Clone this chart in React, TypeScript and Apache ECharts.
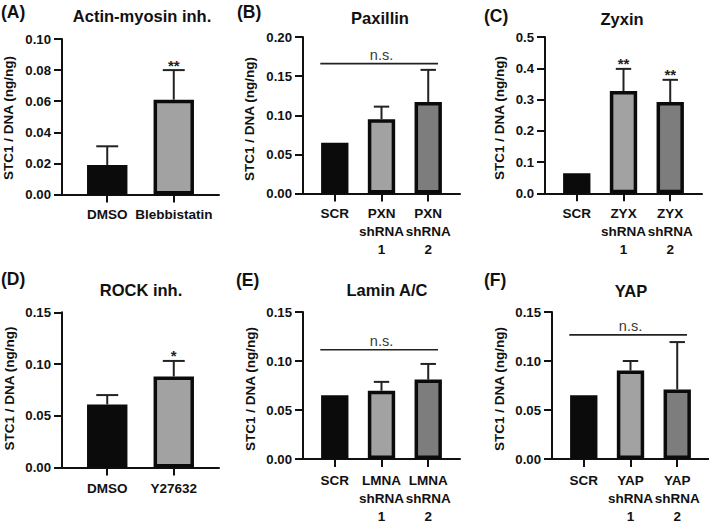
import React, { useEffect, useRef } from "react";
import * as echarts from "echarts";

// ---------- DATA ----------
const catsA = ["DMSO", "Blebbistatin"];
const meanA = [0.019, 0.061];
const errA = [0.031, 0.08];
const starsA = ["", "**"];
const ticksA = { max: 0.1, step: 0.02, dec: 2 };

const catsB = ["SCR", "PXN\nshRNA\n1", "PXN\nshRNA\n2"];
const meanB = [0.065, 0.095, 0.117];
const errB = [null, 0.111, 0.158];
const starsB = ["", "", ""];
const nsB = 0.166;
const ticksB = { max: 0.2, step: 0.05, dec: 2 };

const catsC = ["SCR", "ZYX\nshRNA\n1", "ZYX\nshRNA\n2"];
const meanC = [0.064, 0.327, 0.292];
const errC = [null, 0.398, 0.363];
const starsC = ["", "**", "**"];
const ticksC = { max: 0.5, step: 0.1, dec: 1 };

const catsD = ["DMSO", "Y27632"];
const meanD = [0.061, 0.088];
const errD = [0.07, 0.103];
const starsD = ["", "*"];
const ticksD = { max: 0.15, step: 0.05, dec: 2 };

const catsE = ["SCR", "LMNA\nshRNA\n1", "LMNA\nshRNA\n2"];
const meanE = [0.065, 0.0697, 0.081];
const errE = [null, 0.0787, 0.097];
const starsE = ["", "", ""];
const nsE = 0.1115;
const ticksE = { max: 0.15, step: 0.05, dec: 2 };

const catsF = ["SCR", "YAP\nshRNA\n1", "YAP\nshRNA\n2"];
const meanF = [0.065, 0.0903, 0.071];
const errF = [null, 0.1, 0.1193];
const starsF = ["", "", ""];
const nsF = 0.1267;
const ticksF = { max: 0.15, step: 0.05, dec: 2 };

const letters = ["(A)", "(B)", "(C)", "(D)", "(E)", "(F)"];
const titles = ["Actin-myosin inh.", "Paxillin", "Zyxin", "ROCK inh.", "Lamin A/C", "YAP"];
const yName = "STC1 / DNA (ng/ng)";

// ---------- LAYOUT / STYLE ----------
const FONT = "'Liberation Sans', Arial, Helvetica, sans-serif";
const INK = "#111";
const PLOT_W = 157;
const PAD = 0.68;

const panels = [
  { cats: catsA, mean: meanA, err: errA, stars: starsA, ns: null, ticks: ticksA,
    left: 62, top: 39, zero: 194.5, title: [142, 15.5], letter: [1, 11.5], yname: [8.7, 118], lblMargin: 11 },
  { cats: catsB, mean: meanB, err: errB, stars: starsB, ns: nsB, ticks: ticksB,
    left: 303, top: 37, zero: 193.5, title: [380, 18], letter: [237, 11.5], yname: [249.5, 119], lblMargin: 11 },
  { cats: catsC, mean: meanC, err: errC, stars: starsC, ns: null, ticks: ticksC,
    left: 545, top: 37, zero: 193.3, title: [622, 19], letter: [484, 15.5], yname: [499, 118], lblMargin: 11 },
  { cats: catsD, mean: meanD, err: errD, stars: starsD, ns: null, ticks: ticksD,
    left: 62, top: 312.3, zero: 467.5, title: [141, 290], letter: [1, 279], yname: [9, 388.5], lblMargin: 12 },
  { cats: catsE, mean: meanE, err: errE, stars: starsE, ns: nsE, ticks: ticksE,
    left: 303, top: 312, zero: 467.3, title: [387, 290], letter: [236, 280], yname: [250, 389], lblMargin: 12 },
  { cats: catsF, mean: meanF, err: errF, stars: starsF, ns: nsF, ticks: ticksF,
    left: 552, top: 312, zero: 467, title: [631, 290.5], letter: [484, 280], yname: [499, 389], lblMargin: 12 },
];

const fill2 = ["#0b0b0b", "#a2a2a2"];
const fill3 = ["#0b0b0b", "#a2a2a2", "#7d7d7d"];
const BORDER = 3.5;

function buildOption() {
  const grid: any[] = [];
  const xAxis: any[] = [];
  const yAxis: any[] = [];
  const series: any[] = [];
  const graphic: any[] = [];

  panels.forEach((p, i) => {
    const n = p.cats.length;
    const band = PLOT_W / (n - 1 + 2 * PAD);
    const outer = 0.66 * band;
    const capHalf = outer / 4;
    grid.push({ left: p.left, top: p.top, width: PLOT_W, height: p.zero - p.top, containLabel: false });
    const idx = p.cats.map((_, j) => j);
    xAxis.push({
      gridIndex: i,
      type: "value",
      min: -PAD,
      max: n - 1 + PAD,
      splitLine: { show: false },
      axisLine: { show: true, onZero: false, lineStyle: { color: INK, width: 2 } },
      axisTick: { show: true, length: 8, customValues: idx, lineStyle: { color: INK, width: 2 } },
      axisLabel: {
        show: true,
        customValues: idx,
        formatter: (v: number) => p.cats[Math.round(v)] ?? "",
        margin: p.lblMargin,
        color: INK,
        fontFamily: FONT,
        fontWeight: "bold",
        fontSize: 13.5,
        lineHeight: 18,
      },
    });
    yAxis.push({
      gridIndex: i,
      type: "value",
      min: 0,
      max: p.ticks.max,
      interval: p.ticks.step,
      splitLine: { show: false },
      axisLine: { show: true, onZero: false, lineStyle: { color: INK, width: 2 } },
      axisTick: { show: true, length: 8, lineStyle: { color: INK, width: 2 } },
      axisLabel: {
        formatter: (v: number) => v.toFixed(p.ticks.dec),
        margin: 11,
        color: INK,
        fontFamily: FONT,
        fontWeight: "bold",
        fontSize: 13.2,
      },
    });
    const fills = n === 2 ? fill2 : fill3;
    series.push({
      type: "bar",
      xAxisIndex: i,
      yAxisIndex: i,
      barWidth: outer - BORDER,
      z: 3,
      data: p.mean.map((m, j) => ({
        value: [j, m],
        itemStyle: { color: fills[j], borderColor: "#0b0b0b", borderWidth: BORDER },
      })),
    });
    const errData: any[] = [];
    p.err.forEach((e, j) => {
      if (e != null) errData.push([j, p.mean[j], e]);
    });
    series.push({
      type: "custom",
      xAxisIndex: i,
      yAxisIndex: i,
      z: 2,
      encode: { x: 0, y: [1, 2] },
      data: errData,
      renderItem: (params: any, api: any) => {
        const x = api.value(0);
        const m = api.value(1);
        const e = api.value(2);
        const p0 = api.coord([x, m]);
        const p1 = api.coord([x, e]);
        const ls = { stroke: "#222", lineWidth: 2 };
        const children: any[] = [
          { type: "line", shape: { x1: p0[0], y1: p0[1], x2: p1[0], y2: p1[1] }, style: ls },
          { type: "line", shape: { x1: p1[0] - capHalf, y1: p1[1], x2: p1[0] + capHalf, y2: p1[1] }, style: ls },
        ];
        const s = p.stars[Math.round(x)];
        if (s) {
          children.push({
            type: "text",
            x: p1[0],
            y: p1[1] - 5,
            style: {
              text: s,
              align: "center",
              textAlign: "center",
              verticalAlign: "middle",
              textVerticalAlign: "middle",
              fontSize: 15,
              fontWeight: "bold",
              fontFamily: FONT,
              fill: "#222",
            },
          });
        }
        return { type: "group", children };
      },
    });
    if (p.ns != null) {
      series.push({
        type: "custom",
        xAxisIndex: i,
        yAxisIndex: i,
        z: 4,
        encode: { x: [0, 1], y: 2 },
        data: [[-0.31, n - 1 + 0.21, p.ns]],
        renderItem: (params: any, api: any) => {
          const a = api.coord([api.value(0), api.value(2)]);
          const b = api.coord([api.value(1), api.value(2)]);
          const mid = api.coord([1, api.value(2)]);
          return {
            type: "group",
            children: [
              { type: "line", shape: { x1: a[0], y1: a[1], x2: b[0], y2: b[1] }, style: { stroke: "#222", lineWidth: 1.6 } },
              {
                type: "text",
                x: mid[0],
                y: mid[1] - 8.5,
                style: {
                  text: "n.s.",
                  align: "center",
                  textAlign: "center",
                  verticalAlign: "middle",
                  textVerticalAlign: "middle",
                  fontSize: 14.5,
                  fontFamily: FONT,
                  fill: "#3a3a3a",
                },
              },
            ],
          };
        },
      });
    }
    graphic.push({
      type: "text",
      x: p.letter[0],
      y: p.letter[1],
      style: {
        text: letters[i],
        align: "left",
        textAlign: "left",
        verticalAlign: "middle",
        textVerticalAlign: "middle",
        fontSize: 17.5,
        fontWeight: "bold",
        fontFamily: FONT,
        fill: INK,
      },
    });
    graphic.push({
      type: "text",
      x: p.title[0],
      y: p.title[1],
      style: {
        text: titles[i],
        align: "center",
        textAlign: "center",
        verticalAlign: "middle",
        textVerticalAlign: "middle",
        fontSize: 16.5,
        fontWeight: "bold",
        fontFamily: FONT,
        fill: INK,
      },
    });
    graphic.push({
      type: "text",
      x: p.yname[0],
      y: p.yname[1],
      rotation: Math.PI / 2,
      style: {
        text: yName,
        align: "center",
        textAlign: "center",
        verticalAlign: "middle",
        textVerticalAlign: "middle",
        fontSize: 13.5,
        fontWeight: "bold",
        fontFamily: FONT,
        fill: INK,
      },
    });
  });

  return {
    animation: false,
    backgroundColor: "#ffffff",
    grid,
    xAxis,
    yAxis,
    series,
    graphic,
  };
}

export default function App() {
  const ref = useRef<HTMLDivElement>(null);
  useEffect(() => {
    document.body.style.margin = "0";
    if (!ref.current) return;
    const chart = echarts.init(ref.current, undefined, { renderer: "svg" });
    chart.setOption(buildOption() as any);
    return () => chart.dispose();
  }, []);
  return (
    <div
      ref={ref}
      style={{ position: "fixed", left: 0, top: 0, width: 709, height: 525, background: "#fff" }}
    />
  );
}
